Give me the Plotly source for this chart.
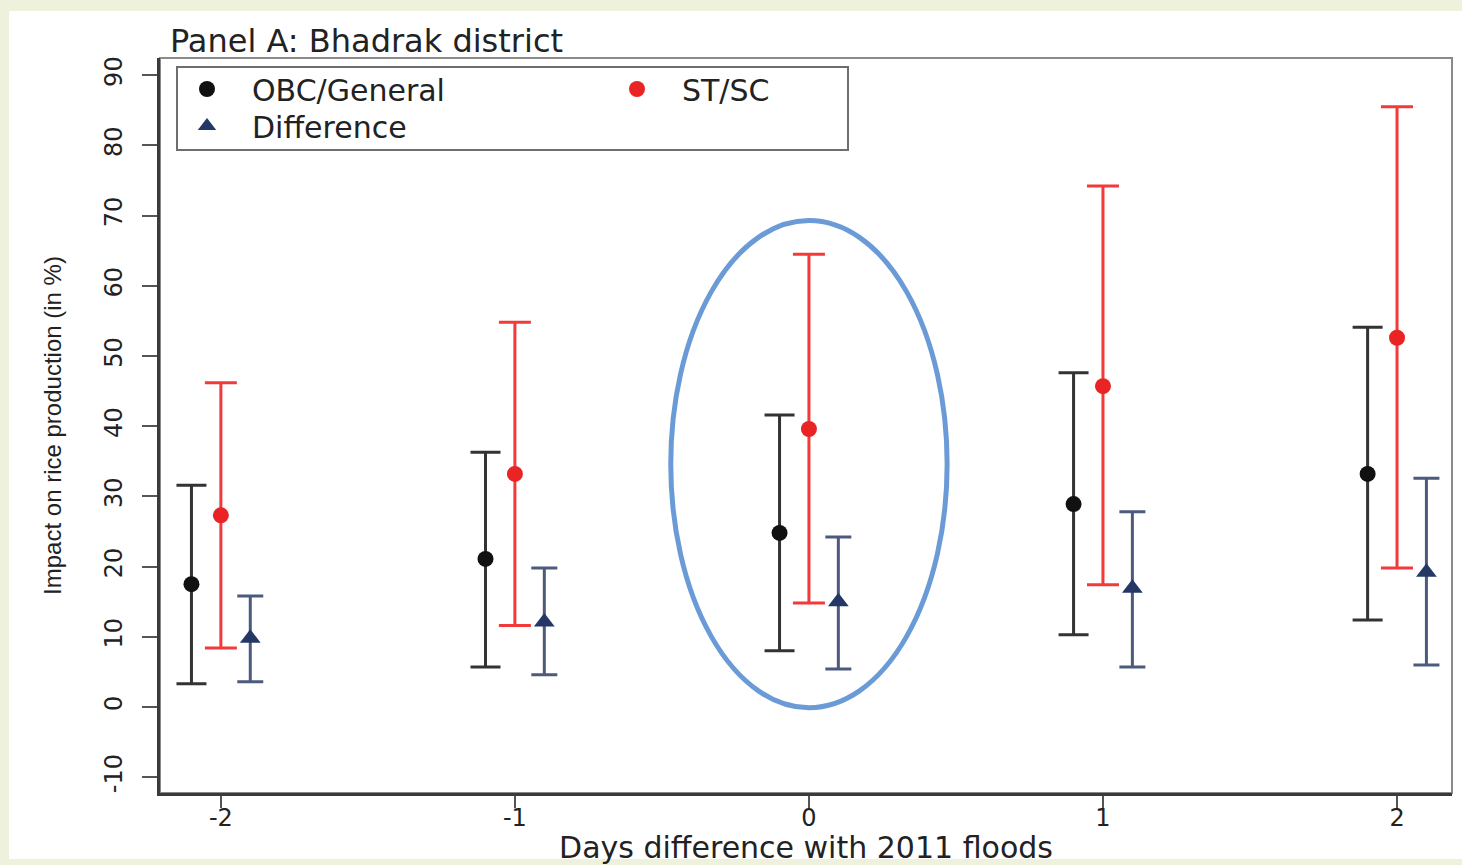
import plotly.graph_objects as go

# ---- data ----
days = [-2, -1, 0, 1, 2]
tick_vals_y = [-10, 0, 10, 20, 30, 40, 50, 60, 70, 80, 90]

obc_point = [17.5, 21.1, 24.8, 28.9, 33.2]
obc_upper = [31.6, 36.3, 41.6, 47.6, 54.1]
obc_lower = [3.3, 5.7, 8.0, 10.3, 12.4]

stsc_point = [27.3, 33.2, 39.6, 45.7, 52.6]
stsc_upper = [46.2, 54.8, 64.5, 74.2, 85.5]
stsc_lower = [8.4, 11.6, 14.8, 17.4, 19.8]

diff_point = [9.8, 12.1, 15.0, 16.9, 19.2]
diff_upper = [15.8, 19.8, 24.2, 27.8, 32.6]
diff_lower = [3.6, 4.6, 5.4, 5.7, 6.0]

# horizontal offsets of the three series around each day
offset_obc, offset_stsc, offset_diff = -0.1, 0.0, 0.1


def shift(xs, d):
    return [x + d for x in xs]


def up(u, p):
    return [a - b for a, b in zip(u, p)]


def down(p, l):
    return [a - b for a, b in zip(p, l)]


FONT = "DejaVu Sans, Liberation Sans, Arial, sans-serif"
TXT = "#222222"

fig = go.Figure()

fig.add_trace(go.Scatter(
    x=shift(days, offset_obc), y=obc_point, mode="markers", name="OBC/General",
    marker=dict(symbol="circle", size=16, color="#111111"),
    error_y=dict(type="data", symmetric=False, array=up(obc_upper, obc_point),
                 arrayminus=down(obc_point, obc_lower), color="#333333",
                 thickness=3, width=15),
    legend="legend",
))
fig.add_trace(go.Scatter(
    x=shift(days, offset_stsc), y=stsc_point, mode="markers", name="ST/SC",
    marker=dict(symbol="circle", size=16, color="#ea2424"),
    error_y=dict(type="data", symmetric=False, array=up(stsc_upper, stsc_point),
                 arrayminus=down(stsc_point, stsc_lower), color="#f23a3a",
                 thickness=3, width=16),
    legend="legend2",
))
fig.add_trace(go.Scatter(
    x=shift(days, offset_diff), y=diff_point, mode="markers", name="Difference",
    marker=dict(symbol="triangle-up", size=18, color="#243766"),
    error_y=dict(type="data", symmetric=False, array=up(diff_upper, diff_point),
                 arrayminus=down(diff_point, diff_lower), color="#4b5a7d",
                 thickness=3, width=13),
    legend="legend3",
))

W, H = 1462, 865
ML, MR, MT, MB = 160, 10, 58, 72
PW, PH = W - ML - MR, H - MT - MB


def px_x(p):
    return (p - ML) / PW


def px_y(p):
    return (H - MB - p) / PH


shapes = [
    # white panel on the light green page
    dict(type="rect", xref="paper", yref="paper", x0=px_x(9), x1=px_x(W + 5),
         y0=px_y(H - 6), y1=px_y(11), fillcolor="white", line=dict(width=0),
         layer="below"),
    # plot frame (top/right lighter)
    dict(type="rect", xref="paper", yref="paper", x0=0, x1=1, y0=0, y1=1,
         line=dict(color="#8a8a8a", width=2), layer="below"),
    # legend frame
    dict(type="rect", xref="paper", yref="paper", x0=px_x(177), x1=px_x(848),
         y0=px_y(150), y1=px_y(67), line=dict(color="#6e6e6e", width=2),
         fillcolor="white", layer="below"),
    # highlight ellipse around day 0
    dict(type="circle", xref="x", yref="y", x0=-0.47, x1=0.47, y0=-0.1, y1=69.3,
         line=dict(color="#6b9bd6", width=5), layer="above"),
]

leg_common = dict(xanchor="left", yanchor="top", orientation="v",
                  bgcolor="rgba(0,0,0,0)", borderwidth=0, itemwidth=80,
                  font=dict(size=30, family=FONT, color=TXT))

fig.update_layout(
    width=W, height=H,
    margin=dict(l=ML, r=MR, t=MT, b=MB, pad=0, autoexpand=False),
    paper_bgcolor="#eef1dc",
    plot_bgcolor="white",
    font=dict(family=FONT, color=TXT),
    title=dict(text="Panel A: Bhadrak district", x=px_x(170), xref="paper",
               xanchor="left", y=1 - 41 / H, yref="container", yanchor="middle",
               font=dict(size=32, family=FONT, color=TXT)),
    showlegend=True,
    legend=dict(x=px_x(162), y=px_y(63), **leg_common),
    legend2=dict(x=px_x(592), y=px_y(63), **leg_common),
    legend3=dict(x=px_x(162), y=px_y(100), **leg_common),
    shapes=shapes,
    xaxis=dict(
        range=[-2.207, 2.187], tickmode="array", tickvals=days,
        ticktext=[str(d) for d in days], showgrid=False, zeroline=False,
        showline=True, linecolor="#3a3a3a", linewidth=3, mirror=False,
        ticks="outside", ticklen=12, tickwidth=2, tickcolor="#555555",
        automargin=False, ticklabelstandoff=-11,
        tickfont=dict(size=24, family=FONT, color=TXT),
        title=dict(text="Days difference with 2011 floods", standoff=12,
                   font=dict(size=30, family=FONT, color=TXT)),
    ),
    yaxis=dict(
        range=[-12.25, 92.45], tickmode="array", tickvals=tick_vals_y,
        ticktext=[str(v) for v in tick_vals_y], showgrid=False, zeroline=False,
        showline=True, linecolor="#3a3a3a", linewidth=3, mirror=False,
        ticks="outside", ticklen=15, tickwidth=2, tickcolor="#555555",
        tickangle=-90, ticklabelstandoff=10, automargin=False,
        tickfont=dict(size=24, family=FONT, color=TXT),
        title=dict(text="Impact on rice production (in %)", standoff=33,
                   font=dict(size=24, family="Liberation Sans, Arial, sans-serif",
                             color=TXT)),
    ),
)

fig.write_html(
    "out.html",
    config={"displayModeBar": False},
    post_script="document.body.style.margin='0';"
                "document.body.style.background='#eef1dc';",
)
